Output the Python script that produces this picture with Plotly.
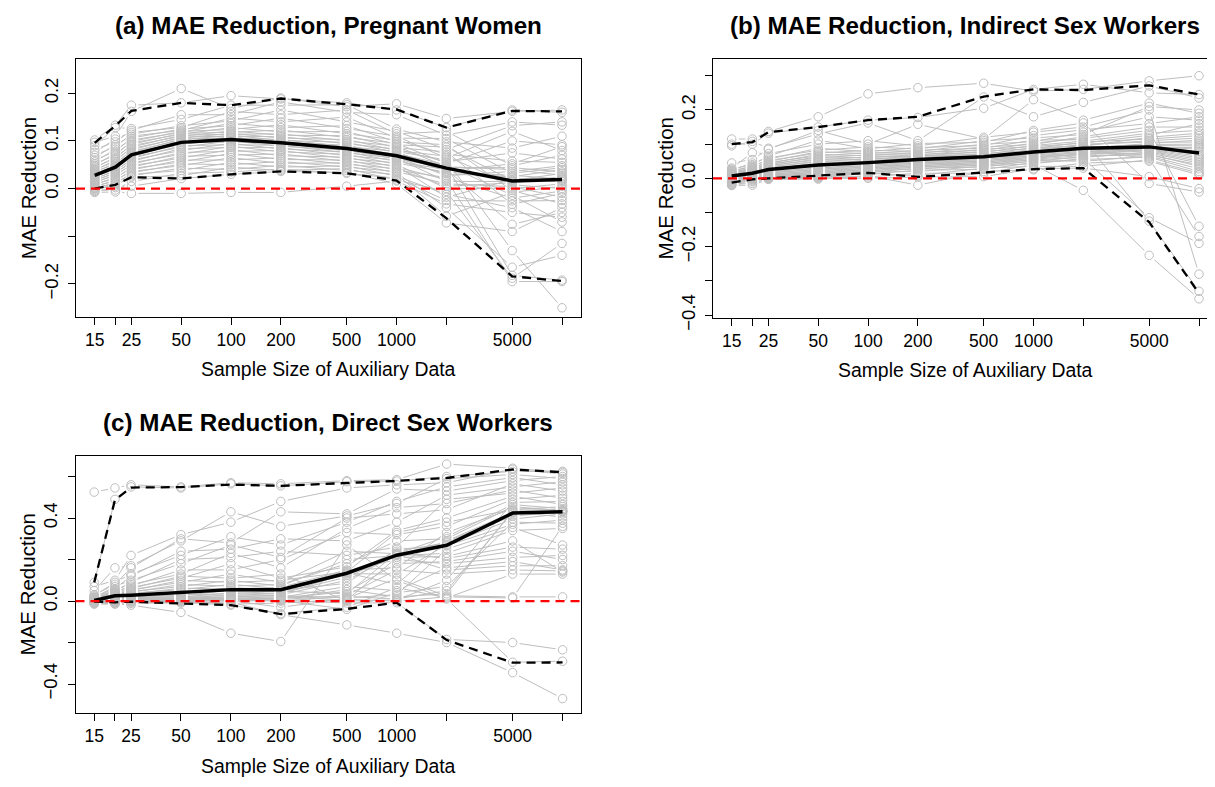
import math
import plotly.graph_objects as go

# ---------------- data ----------------
SAMPLE_SIZES = [15, 20, 25, 50, 100, 200, 500, 1000, 2000, 5000, 10000]
X_TICK_TEXT = ["15", "", "25", "50", "100", "200", "500", "1000", "", "5000", ""]

# (a) Pregnant women: one row per unit, values at each sample size
PW_SERIES = [
    [0.102, 0.133, 0.175, 0.180, 0.195, 0.188, 0.180, 0.165, 0.128, 0.165, 0.160],
    [0.097, 0.110, 0.162, 0.210, 0.168, 0.190, 0.172, 0.178, 0.147, 0.162, 0.165],
    [0.090, 0.128, 0.126, 0.145, 0.175, 0.175, 0.176, 0.125, 0.098, 0.085, 0.110],
    [0.082, 0.098, 0.122, 0.155, 0.155, 0.182, 0.160, 0.155, 0.112, 0.140, 0.133],
    [0.076, 0.104, 0.118, 0.128, 0.162, 0.155, 0.165, 0.115, 0.120, 0.048, 0.070],
    [0.070, 0.088, 0.114, 0.132, 0.142, 0.165, 0.140, 0.120, 0.082, 0.132, 0.140],
    [0.065, 0.092, 0.110, 0.122, 0.148, 0.140, 0.150, 0.106, 0.105, 0.032, 0.044],
    [0.060, 0.078, 0.106, 0.125, 0.132, 0.148, 0.126, 0.110, 0.064, 0.120, 0.080],
    [0.056, 0.083, 0.102, 0.118, 0.137, 0.128, 0.132, 0.098, 0.092, -0.004, -0.032],
    [0.052, 0.070, 0.099, 0.120, 0.124, 0.134, 0.115, 0.102, 0.072, 0.058, 0.055],
    [0.049, 0.074, 0.096, 0.114, 0.128, 0.119, 0.120, 0.092, 0.087, 0.017, 0.032],
    [0.046, 0.063, 0.093, 0.116, 0.118, 0.123, 0.107, 0.095, 0.053, 0.100, 0.092],
    [0.043, 0.066, 0.090, 0.110, 0.121, 0.112, 0.111, 0.086, 0.077, -0.033, -0.010],
    [0.040, 0.057, 0.087, 0.112, 0.114, 0.115, 0.100, 0.089, 0.046, 0.040, 0.028],
    [0.038, 0.060, 0.084, 0.106, 0.116, 0.106, 0.103, 0.080, 0.068, 0.008, 0.000],
    [0.036, 0.051, 0.081, 0.108, 0.110, 0.109, 0.094, 0.083, 0.056, 0.075, 0.062],
    [0.034, 0.054, 0.078, 0.102, 0.112, 0.101, 0.097, 0.076, 0.042, 0.022, 0.018],
    [0.032, 0.047, 0.076, 0.104, 0.106, 0.103, 0.088, 0.078, 0.060, -0.130, -0.250],
    [0.030, 0.049, 0.074, 0.098, 0.108, 0.097, 0.091, 0.070, 0.037, 0.052, 0.088],
    [0.029, 0.044, 0.072, 0.100, 0.102, 0.099, 0.083, 0.073, 0.050, -0.014, -0.070],
    [0.027, 0.046, 0.070, 0.093, 0.104, 0.093, 0.085, 0.066, 0.027, 0.036, 0.048],
    [0.026, 0.040, 0.068, 0.096, 0.098, 0.095, 0.079, 0.068, 0.048, -0.182, -0.192],
    [0.024, 0.042, 0.066, 0.087, 0.100, 0.089, 0.081, 0.062, 0.044, 0.044, 0.035],
    [0.022, 0.036, 0.063, 0.090, 0.092, 0.091, 0.075, 0.064, 0.015, 0.015, 0.022],
    [0.020, 0.038, 0.060, 0.080, 0.095, 0.083, 0.077, 0.057, 0.040, -0.075, -0.050],
    [0.018, 0.032, 0.057, 0.084, 0.086, 0.086, 0.069, 0.060, 0.031, 0.025, 0.040],
    [0.016, 0.034, 0.054, 0.072, 0.089, 0.077, 0.072, 0.051, 0.000, 0.000, 0.010],
    [0.014, 0.027, 0.051, 0.076, 0.078, 0.080, 0.063, 0.054, 0.034, 0.028, 0.020],
    [0.012, 0.030, 0.048, 0.064, 0.082, 0.069, 0.066, 0.045, 0.019, -0.195, -0.195],
    [0.010, 0.021, 0.045, 0.068, 0.070, 0.073, 0.057, 0.048, -0.018, 0.019, 0.015],
    [0.008, 0.024, 0.042, 0.056, 0.074, 0.061, 0.060, 0.039, 0.023, -0.020, -0.005],
    [0.006, 0.015, 0.039, 0.060, 0.060, 0.065, 0.051, 0.042, 0.005, 0.012, 0.025],
    [0.004, 0.018, 0.036, 0.048, 0.065, 0.053, 0.054, 0.033, -0.040, -0.165, -0.140],
    [0.002, 0.010, 0.033, 0.052, 0.050, 0.057, 0.045, 0.036, 0.010, 0.004, -0.018],
    [0.001, 0.012, 0.030, 0.038, 0.055, 0.045, 0.048, 0.026, -0.012, -0.040, -0.090],
    [0.000, 0.005, 0.027, 0.043, 0.040, 0.049, 0.038, 0.030, -0.058, -0.008, 0.005],
    [-0.002, 0.008, 0.024, 0.027, 0.045, 0.038, 0.042, 0.018, -0.006, -0.188, -0.115],
    [-0.004, -0.003, 0.015, 0.032, 0.035, 0.041, 0.032, 0.022, -0.025, -0.026, -0.025],
    [-0.006, 0.002, 0.005, 0.021, 0.030, 0.036, 0.034, 0.010, -0.072, -0.090, -0.040],
    [-0.008, -0.007, -0.010, -0.010, -0.008, -0.008, 0.005, 0.016, -0.032, -0.050, -0.060],
]
PW_MEDIAN = [0.028, 0.045, 0.071, 0.097, 0.103, 0.096, 0.084, 0.069, 0.043, 0.016, 0.019]
PW_UPPER = [0.096, 0.132, 0.163, 0.180, 0.175, 0.189, 0.177, 0.166, 0.128, 0.163, 0.162]
PW_LOWER = [0.000, 0.008, 0.024, 0.021, 0.030, 0.036, 0.032, 0.017, -0.062, -0.184, -0.194]

# (b) Indirect sex workers
ISW_SERIES = [
    [0.115, 0.115, 0.137, 0.180, 0.247, 0.265, 0.278, 0.255, 0.260, 0.285, 0.300],
    [0.100, 0.100, 0.132, 0.150, 0.170, 0.178, 0.205, 0.260, 0.275, 0.250, 0.245],
    [0.095, 0.108, 0.088, 0.130, 0.162, 0.110, 0.238, 0.180, 0.222, 0.270, 0.235],
    [0.045, 0.055, 0.085, 0.140, 0.100, 0.158, 0.115, 0.230, 0.170, 0.220, 0.190],
    [0.030, 0.075, 0.072, 0.100, 0.110, 0.095, 0.120, 0.135, 0.150, 0.200, -0.280],
    [0.027, 0.040, 0.065, 0.112, 0.086, 0.102, 0.105, 0.140, 0.162, -0.015, -0.040],
    [0.024, 0.045, 0.060, 0.082, 0.092, 0.086, 0.110, 0.118, 0.128, 0.210, 0.200],
    [0.022, 0.034, 0.056, 0.088, 0.078, 0.090, 0.096, 0.125, 0.142, 0.160, 0.180],
    [0.020, 0.037, 0.052, 0.074, 0.082, 0.079, 0.100, 0.107, 0.135, 0.180, 0.170],
    [0.018, 0.030, 0.049, 0.078, 0.072, 0.082, 0.088, 0.112, 0.113, -0.125, -0.330],
    [0.016, 0.032, 0.046, 0.066, 0.075, 0.073, 0.092, 0.099, 0.122, 0.150, 0.150],
    [0.015, 0.026, 0.044, 0.070, 0.066, 0.076, 0.082, 0.103, 0.117, 0.140, -0.140],
    [0.014, 0.028, 0.042, 0.060, 0.069, 0.068, 0.085, 0.093, 0.103, 0.126, 0.160],
    [0.013, 0.024, 0.040, 0.063, 0.060, 0.070, 0.076, 0.096, 0.109, 0.132, 0.140],
    [0.012, 0.025, 0.038, 0.054, 0.063, 0.064, 0.079, 0.087, 0.106, 0.115, 0.125],
    [0.011, 0.021, 0.036, 0.057, 0.055, 0.066, 0.070, 0.090, 0.094, 0.120, 0.132],
    [0.010, 0.022, 0.034, 0.048, 0.058, 0.060, 0.073, 0.082, 0.100, 0.106, 0.106],
    [0.009, 0.017, 0.032, 0.051, 0.050, 0.062, 0.066, 0.084, 0.097, 0.110, 0.118],
    [0.008, 0.019, 0.030, 0.041, 0.053, 0.056, 0.068, 0.078, 0.087, 0.102, 0.112],
    [0.007, 0.014, 0.027, 0.045, 0.045, 0.058, 0.062, 0.080, 0.091, 0.096, 0.095],
    [0.007, 0.016, 0.025, 0.034, 0.048, 0.052, 0.064, 0.074, 0.089, 0.099, 0.100],
    [0.006, 0.012, 0.023, 0.037, 0.041, 0.054, 0.058, 0.076, 0.081, 0.058, -0.170],
    [0.005, 0.013, 0.021, 0.029, 0.043, 0.048, 0.060, 0.070, 0.085, 0.093, 0.085],
    [0.004, 0.010, 0.019, 0.031, 0.037, 0.050, 0.054, 0.072, 0.083, 0.091, 0.090],
    [0.003, 0.011, 0.017, 0.025, 0.039, 0.044, 0.056, 0.066, 0.075, 0.087, 0.070],
    [0.002, 0.008, 0.015, 0.027, 0.033, 0.046, 0.050, 0.068, 0.079, 0.089, 0.078],
    [0.001, 0.009, 0.013, 0.021, 0.035, 0.040, 0.052, 0.062, 0.077, 0.083, 0.060],
    [0.000, 0.005, 0.011, 0.023, 0.029, 0.042, 0.046, 0.064, 0.069, 0.085, 0.065],
    [-0.001, 0.006, 0.010, 0.017, 0.031, 0.036, 0.048, 0.058, 0.073, 0.080, 0.055],
    [-0.002, 0.003, 0.008, 0.019, 0.025, 0.038, 0.042, 0.060, 0.071, 0.074, 0.045],
    [-0.004, 0.004, 0.007, 0.013, 0.027, 0.032, 0.044, 0.054, 0.061, 0.077, 0.050],
    [-0.006, 0.000, 0.006, 0.015, 0.021, 0.034, 0.038, 0.056, 0.067, 0.068, 0.040],
    [-0.008, 0.002, 0.005, 0.009, 0.023, 0.027, 0.040, 0.049, 0.064, 0.071, 0.035],
    [-0.010, -0.003, 0.004, 0.011, 0.017, 0.030, 0.033, 0.052, 0.050, 0.065, 0.028],
    [-0.012, -0.001, 0.003, 0.006, 0.019, 0.020, 0.036, 0.043, 0.058, -0.115, -0.190],
    [-0.014, -0.008, 0.002, 0.008, 0.012, 0.024, 0.026, 0.046, 0.055, 0.062, 0.020],
    [-0.016, -0.005, 0.001, 0.002, 0.015, 0.008, 0.030, 0.035, 0.035, 0.054, 0.015],
    [-0.018, -0.015, 0.000, 0.004, 0.004, 0.015, 0.015, 0.040, -0.035, -0.225, -0.352],
    [-0.019, -0.010, -0.002, -0.002, 0.008, -0.020, 0.020, 0.025, 0.045, 0.050, 0.010],
    [-0.021, -0.020, -0.003, 0.000, 0.000, 0.004, 0.005, 0.028, 0.030, 0.005, -0.030],
]
ISW_MEDIAN = [0.007, 0.015, 0.026, 0.039, 0.046, 0.055, 0.063, 0.077, 0.088, 0.092, 0.074]
ISW_UPPER = [0.100, 0.106, 0.135, 0.150, 0.170, 0.180, 0.239, 0.260, 0.258, 0.272, 0.245]
ISW_LOWER = [-0.0125, -0.003, 0.000, 0.007, 0.016, 0.004, 0.018, 0.027, 0.030, -0.128, -0.336]

# (c) Direct sex workers
DSW_SERIES = [
    [0.525, 0.545, 0.560, 0.550, 0.570, 0.565, 0.580, 0.585, 0.660, 0.640, 0.620],
    [0.090, 0.490, 0.550, 0.545, 0.565, 0.555, 0.575, 0.578, 0.600, 0.625, 0.625],
    [0.070, 0.100, 0.220, 0.320, 0.380, 0.480, 0.545, 0.560, 0.570, 0.635, 0.612],
    [0.050, 0.160, 0.170, 0.290, 0.430, 0.360, 0.410, 0.470, 0.590, 0.610, 0.590],
    [0.030, 0.080, 0.160, 0.300, 0.280, 0.430, 0.420, 0.540, 0.530, 0.580, 0.600],
    [0.025, 0.090, 0.130, 0.220, 0.310, 0.270, 0.380, 0.480, 0.550, 0.595, 0.560],
    [0.020, 0.060, 0.120, 0.240, 0.250, 0.300, 0.290, 0.380, 0.510, 0.550, 0.575],
    [0.017, 0.070, 0.100, 0.180, 0.270, 0.210, 0.400, 0.420, 0.440, 0.565, 0.530],
    [0.015, 0.050, 0.090, 0.200, 0.210, 0.240, 0.220, 0.260, 0.490, 0.520, 0.545],
    [0.013, 0.055, 0.080, 0.130, 0.230, 0.160, 0.350, 0.450, 0.470, 0.535, 0.495],
    [0.012, 0.044, 0.072, 0.150, 0.150, 0.200, 0.330, 0.320, 0.360, 0.490, 0.510],
    [0.011, 0.047, 0.066, 0.110, 0.180, 0.110, 0.165, 0.340, 0.400, 0.505, 0.465],
    [0.010, 0.038, 0.060, 0.120, 0.110, 0.130, 0.000, 0.005, 0.100, 0.475, 0.480],
    [0.009, 0.041, 0.055, 0.090, 0.130, 0.090, 0.240, 0.228, 0.310, 0.465, 0.445],
    [0.008, 0.034, 0.050, 0.100, 0.090, 0.100, 0.140, 0.330, 0.380, 0.440, 0.455],
    [0.007, 0.036, 0.046, 0.070, 0.100, 0.072, 0.200, 0.219, 0.230, 0.340, 0.350],
    [0.006, 0.030, 0.042, 0.080, 0.072, 0.080, 0.180, 0.290, 0.300, 0.455, 0.436],
    [0.005, 0.032, 0.038, 0.055, 0.080, 0.060, 0.125, 0.240, 0.280, 0.410, 0.429],
    [0.004, 0.026, 0.034, 0.062, 0.058, 0.066, 0.150, 0.160, 0.330, 0.445, 0.440],
    [0.0035, 0.028, 0.030, 0.035, 0.065, 0.053, 0.085, 0.250, 0.266, 0.370, 0.390],
    [0.0025, 0.022, 0.026, 0.045, 0.046, 0.057, 0.145, 0.200, 0.180, 0.210, 0.220],
    [0.002, 0.024, 0.023, 0.026, 0.052, 0.043, 0.136, 0.080, 0.290, 0.427, 0.432],
    [0.001, 0.018, 0.020, 0.030, 0.035, 0.048, 0.035, 0.232, 0.205, 0.260, 0.250],
    [0.000, 0.020, 0.018, 0.019, 0.040, 0.034, 0.132, 0.130, 0.272, 0.395, 0.420],
    [0.000, 0.014, 0.016, 0.022, 0.026, 0.038, 0.115, 0.225, 0.150, 0.170, 0.170],
    [-0.001, 0.016, 0.014, 0.013, 0.030, 0.026, 0.016, 0.030, 0.250, 0.355, 0.270],
    [-0.001, 0.010, 0.012, 0.016, 0.018, 0.030, 0.100, 0.223, 0.285, 0.421, 0.431],
    [-0.002, 0.012, 0.010, 0.009, 0.022, 0.018, 0.070, 0.050, 0.160, 0.190, 0.150],
    [-0.002, 0.006, 0.008, 0.011, 0.012, 0.022, 0.004, 0.210, 0.215, 0.290, 0.140],
    [-0.003, 0.008, 0.006, 0.005, 0.015, 0.010, 0.055, 0.020, 0.035, 0.435, 0.433],
    [-0.003, 0.002, 0.005, 0.007, 0.008, 0.014, 0.045, 0.180, 0.190, 0.240, 0.200],
    [-0.004, 0.004, 0.004, 0.003, 0.010, 0.004, -0.010, -0.008, -0.185, -0.200, -0.235],
    [-0.005, -0.002, 0.003, 0.004, 0.004, 0.007, 0.028, 0.150, 0.130, 0.150, 0.145],
    [-0.006, 0.000, 0.002, 0.001, 0.006, 0.000, 0.022, 0.010, 0.050, 0.430, 0.405],
    [-0.007, -0.006, 0.000, 0.002, 0.000, 0.002, -0.040, 0.040, 0.070, 0.380, 0.375],
    [-0.008, -0.004, -0.002, -0.002, 0.002, -0.030, 0.012, 0.110, 0.025, 0.020, 0.020],
    [-0.009, -0.010, -0.004, 0.000, -0.015, -0.010, 0.008, 0.000, 0.020, 0.015, 0.360],
    [-0.010, -0.008, -0.008, -0.010, -0.005, -0.066, -0.115, -0.155, -0.200, -0.345, -0.470],
    [-0.012, -0.015, -0.012, -0.005, -0.020, -0.060, -0.030, 0.065, 0.015, 0.130, 0.130],
    [-0.015, -0.012, -0.020, -0.055, -0.155, -0.195, 0.270, 0.100, 0.010, -0.295, -0.290],
]
DSW_MEDIAN = [0.003, 0.025, 0.028, 0.040, 0.055, 0.055, 0.134, 0.221, 0.269, 0.424, 0.430]
DSW_UPPER = [0.090, 0.487, 0.547, 0.549, 0.561, 0.555, 0.569, 0.579, 0.593, 0.634, 0.621]
DSW_LOWER = [-0.003, -0.006, -0.003, -0.010, -0.020, -0.063, -0.038, -0.008, -0.188, -0.297, -0.296]

# ---------------- layout / style ----------------
W, H = 1215, 787
FONT = "Liberation Sans, Arial, Helvetica, sans-serif"
GRAY = "#BEBEBE"
GAP_PX = 7.0

PANELS = [
    dict(title="(a) MAE Reduction, Pregnant Women", series=PW_SERIES,
         median=PW_MEDIAN, upper=PW_UPPER, lower=PW_LOWER,
         box=(68.0, 52.3, 572.7, 314.5), yrange=[-0.270, 0.271],
         yticks=[-0.2, -0.1, 0.0, 0.1, 0.2],
         yticktext=["\u22120.2", "", "0.0", "0.1", "0.2"]),
    dict(title="(b) MAE Reduction, Indirect Sex Workers", series=ISW_SERIES,
         median=ISW_MEDIAN, upper=ISW_UPPER, lower=ISW_LOWER,
         box=(705.0, 52.3, 1209.7, 314.7), yrange=[-0.4067, 0.3476],
         yticks=[-0.4, -0.3, -0.2, -0.1, 0.0, 0.1, 0.2, 0.3],
         yticktext=["\u22120.4", "", "\u22120.2", "", "0.0", "", "0.2", ""]),
    dict(title="(c) MAE Reduction, Direct Sex Workers", series=DSW_SERIES,
         median=DSW_MEDIAN, upper=DSW_UPPER, lower=DSW_LOWER,
         box=(67.5, 456.0, 573.3, 717.3), yrange=[-0.5417, 0.6967],
         yticks=[-0.4, -0.2, 0.0, 0.2, 0.4, 0.6],
         yticktext=["\u22120.4", "", "0.0", "", "0.4", ""]),
]

lx_lo = math.log10(SAMPLE_SIZES[0])
lx_hi = math.log10(SAMPLE_SIZES[-1])
pad = 0.04 * (lx_hi - lx_lo)
XRANGE = [lx_lo - pad, lx_hi + pad]

fig = go.Figure()
annotations = []
shapes = []

for k, p in enumerate(PANELS):
    idx = "" if k == 0 else str(k + 1)
    xa, ya = "x" + idx, "y" + idx
    left, top, right, bottom = p["box"]
    sx = (right - left) / (XRANGE[1] - XRANGE[0])
    sy = (bottom - top) / (p["yrange"][1] - p["yrange"][0])

    # gray lines with gaps around the points (R type = "b")
    seg_x, seg_y, pt_x, pt_y = [], [], [], []
    lxs = [math.log10(v) for v in SAMPLE_SIZES]
    for row in p["series"]:
        for i in range(len(row) - 1):
            dx = (lxs[i + 1] - lxs[i]) * sx
            dy = (row[i + 1] - row[i]) * sy
            L = math.hypot(dx, dy)
            if L <= 2 * GAP_PX:
                continue
            f = GAP_PX / L
            ax0 = lxs[i] + f * (lxs[i + 1] - lxs[i])
            ay0 = row[i] + f * (row[i + 1] - row[i])
            ax1 = lxs[i + 1] - f * (lxs[i + 1] - lxs[i])
            ay1 = row[i + 1] - f * (row[i + 1] - row[i])
            seg_x += [10 ** ax0, 10 ** ax1, None]
            seg_y += [ay0, ay1, None]
        pt_x += SAMPLE_SIZES
        pt_y += row

    fig.add_trace(go.Scatter(x=seg_x, y=seg_y, mode="lines", xaxis=xa, yaxis=ya,
                             line=dict(color=GRAY, width=1), hoverinfo="skip"))
    fig.add_trace(go.Scatter(x=pt_x, y=pt_y, mode="markers", xaxis=xa, yaxis=ya,
                             marker=dict(symbol="circle-open", size=8.5, color=GRAY,
                                         line=dict(width=1, color=GRAY))))
    fig.add_trace(go.Scatter(x=SAMPLE_SIZES, y=p["median"], mode="lines", xaxis=xa, yaxis=ya,
                             line=dict(color="black", width=3.5)))
    for q in (p["upper"], p["lower"]):
        fig.add_trace(go.Scatter(x=SAMPLE_SIZES, y=q, mode="lines", xaxis=xa, yaxis=ya,
                                 line=dict(color="black", width=2.3, dash="9px,6px")))

    shapes.append(dict(type="line", xref=xa + " domain", x0=0, x1=1, yref=ya, y0=0, y1=0,
                       line=dict(color="#FF0000", width=2.2, dash="9px,6px"), layer="above"))

    axis_common = dict(showline=True, linecolor="black", linewidth=1, mirror=True,
                       ticks="outside", ticklen=7, tickwidth=1, tickcolor="black",
                       showgrid=False, zeroline=False)
    fig.update_layout(**{
        "xaxis" + idx: dict(axis_common, type="log", range=XRANGE,
                            domain=[left / W, right / W], anchor=ya,
                            tickvals=SAMPLE_SIZES, ticktext=X_TICK_TEXT,
                            tickfont=dict(family=FONT, size=17.5, color="black")),
        "yaxis" + idx: dict(axis_common, range=p["yrange"],
                            domain=[1 - bottom / H, 1 - top / H], anchor=xa,
                            tickvals=p["yticks"], ticktext=p["yticktext"], tickangle=-90,
                            ticklabelstandoff=3,
                            tickfont=dict(family=FONT, size=18.5, color="black")),
    })

    cx = (left + right) / 2
    annotations.append(dict(text="<b>" + p["title"] + "</b>", x=cx / W, y=1 - (top - 35) / H,
                            xref="paper", yref="paper", showarrow=False, xanchor="center",
                            yanchor="middle", font=dict(family=FONT, size=24.2, color="black")))
    annotations.append(dict(text="Sample Size of Auxiliary Data", x=cx / W,
                            y=1 - (bottom + 53) / H, xref="paper", yref="paper",
                            showarrow=False, xanchor="center", yanchor="middle",
                            font=dict(family=FONT, size=19.4, color="black")))
    annotations.append(dict(text="MAE Reduction", x=(left - 48) / W,
                            y=1 - ((top + bottom) / 2) / H, xref="paper", yref="paper",
                            showarrow=False, xanchor="center", yanchor="middle", textangle=-90,
                            font=dict(family=FONT, size=20.5, color="black")))

fig.update_layout(width=W, height=H, margin=dict(l=0, r=0, t=0, b=0),
                  paper_bgcolor="white", plot_bgcolor="white", showlegend=False,
                  annotations=annotations, shapes=shapes)

fig.write_html("out.html")
